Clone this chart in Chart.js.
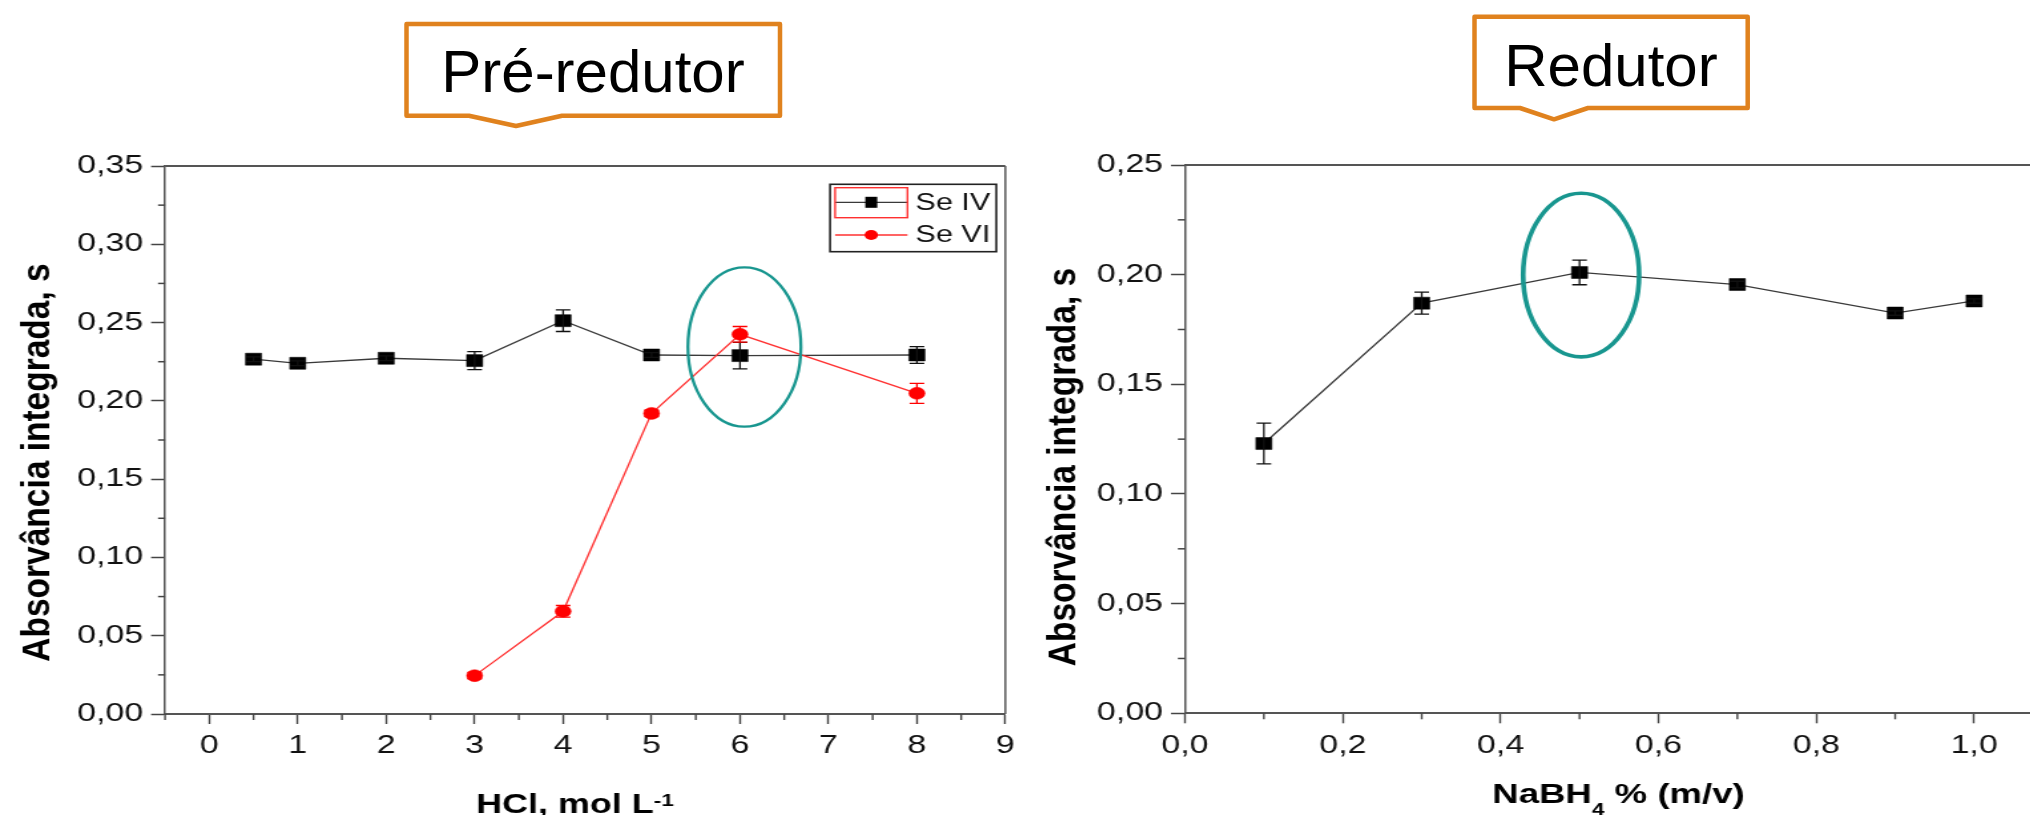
<!DOCTYPE html>
<html lang="pt">
<head>
<meta charset="utf-8">
<title>Pré-redutor / Redutor</title>
<script src="https://cdn.jsdelivr.net/npm/chart.js@4.4.1/dist/chart.umd.min.js"></script>
<style>
  html, body { margin: 0; padding: 0; width: 2030px; height: 815px; overflow: hidden; background: #fff; }
  .panel { position: absolute; top: 0; height: 815px; transform-origin: 0 0; }
  .panel canvas { display: block; }
  #callouts { position: absolute; left: 0; top: 0; pointer-events: none; }
</style>
</head>
<body>
<div class="panel" id="panelHcl"><canvas id="hcl"></canvas></div>
<div class="panel" id="panelNabh4"><canvas id="nabh4"></canvas></div>

<svg id="callouts" width="2030" height="815" viewBox="0 0 2030 815">
  <path d="M406.5 24H780V115.7H562L516 126L469 115.7H406.5Z" fill="#fff" stroke="#E0821E" stroke-width="4.5" stroke-linejoin="round"/>
  <text x="593" y="92" text-anchor="middle" font-family="'Liberation Sans', Arial, sans-serif" font-size="60" fill="#000">Pré-redutor</text>
  <path d="M1474.5 16.7H1747.7V108H1588L1554 119.3L1520 108H1474.5Z" fill="#fff" stroke="#E0821E" stroke-width="4.5" stroke-linejoin="round"/>
  <text x="1611" y="86" text-anchor="middle" font-family="'Liberation Sans', Arial, sans-serif" font-size="60" fill="#000">Redutor</text>
</svg>

<script>
// the original figure is stretched sideways, so both plots are drawn narrow and widened with css
const S = 1.33
const FONT = "'Liberation Sans', Arial, sans-serif"

// --- pre-reductor: HCl concentration ---
const hclSeIV = [0.5, 1, 2, 3, 4, 5, 6, 8]
const absSeIV = [0.2266, 0.2240, 0.2272, 0.2257, 0.2512, 0.2293, 0.2289, 0.2293]
const errSeIV = [0.0015, 0.0015, 0.0015, 0.0058, 0.0069, 0.0015, 0.0085, 0.0053]

const hclSeVI = [3, 4, 5, 6, 8]
const absSeVI = [0.0245, 0.0656, 0.1920, 0.2425, 0.2048]
const errSeVI = [0.002, 0.0037, 0.002, 0.005, 0.0064]

const hclTicks = [0, 1, 2, 3, 4, 5, 6, 7, 8, 9]
const hclMinor = [-0.5, 0.5, 1.5, 2.5, 3.5, 4.5, 5.5, 6.5, 7.5, 8.5]
const absTicksHcl = [0, 0.05, 0.10, 0.15, 0.20, 0.25, 0.30, 0.35]
const absMinorHcl = [0.025, 0.075, 0.125, 0.175, 0.225, 0.275, 0.325]

// --- reductor: NaBH4 concentration ---
const nabh4 = [0.1, 0.3, 0.5, 0.7, 0.9, 1.0]
const absNabh4 = [0.123, 0.187, 0.201, 0.1955, 0.1825, 0.188]
const errNabh4 = [0.0093, 0.005, 0.0056, 0.0015, 0.001, 0.001]

const nabh4Ticks = [0, 0.2, 0.4, 0.6, 0.8, 1.0]
const nabh4Minor = [0.1, 0.3, 0.5, 0.7, 0.9, 1.1]
const absTicksNabh4 = [0, 0.05, 0.10, 0.15, 0.20, 0.25]
const absMinorNabh4 = [0.025, 0.075, 0.125, 0.175, 0.225]

const yTitleText = 'Absorvância integrada, s'

Chart.defaults.font.family = FONT
Chart.defaults.color = '#111'

const fmt = (v, d) => v.toFixed(d).replace('.', ',')
const points = (xs, ys) => xs.map((x, i) => ({x: x, y: ys[i]}))

// extra drawing for each canvas (frame, error bars, minor ticks, titles, legend, ellipse)
const decorConf = {
    hcl: {
        minorX: hclMinor,
        minorY: absMinorHcl,
        yTitle: {dx: -95.4, y: 462.5},
        xTitle: {dx: -7.6, y: 812.5, parts: [
            {t: 'HCl, mol L', size: 27, shift: 0},
            {t: '-1', size: 17, shift: -7}
        ]},
        ellipse: {x: 6.05, y: 0.2344, rx: 0.639, ry: 0.0509, w: 2.3},
        legend: {right: 6.8, top: 18.3, w: 125, h: 67.4, rows: [18, 50.7]}
    },
    nabh4: {
        minorX: nabh4Minor,
        minorY: absMinorNabh4,
        yTitle: {dx: -90.3, y: 467},
        xTitle: {dx: -0.4, y: 803, parts: [
            {t: 'NaBH', size: 27.5, shift: 0},
            {t: '4', size: 17, shift: 12},
            {t: ' % (m/v)', size: 27.5, shift: 0}
        ]},
        ellipse: {x: 0.502, y: 0.1998, rx: 0.0735, ry: 0.0373, w: 3.6}
    }
}

const decor = {
    id: 'decor',
    beforeDatasetsDraw(chart) {
        const {ctx, chartArea: a} = chart
        ctx.save()
        ctx.strokeStyle = '#555'
        ctx.lineWidth = 2
        ctx.beginPath()
        ctx.moveTo(a.left, a.top)
        ctx.lineTo(a.right, a.top)
        ctx.stroke()
        ctx.lineWidth = 1.5
        ctx.beginPath()
        ctx.moveTo(a.right, a.top)
        ctx.lineTo(a.right, a.bottom)
        ctx.stroke()
        ctx.restore()
    },
    afterDatasetDraw(chart, args) {
        const ds = chart.data.datasets[args.index]
        if (!ds.errors) return
        const {ctx} = chart
        const xs = chart.scales.x, ys = chart.scales.y
        ctx.save()
        ctx.strokeStyle = ds.errorColor
        ctx.lineWidth = 1.3
        ds.data.forEach((p, i) => {
            const px = xs.getPixelForValue(p.x)
            const top = ys.getPixelForValue(p.y + ds.errors[i])
            const bot = ys.getPixelForValue(p.y - ds.errors[i])
            ctx.beginPath()
            ctx.moveTo(px, top); ctx.lineTo(px, bot)
            ctx.moveTo(px - 5.5, top); ctx.lineTo(px + 5.5, top)
            ctx.moveTo(px - 5.5, bot); ctx.lineTo(px + 5.5, bot)
            ctx.stroke()
        })
        ctx.restore()
    },
    afterDatasetsDraw(chart) {
        const c = decorConf[chart.canvas.id]
        const e = c.ellipse
        const {ctx} = chart
        const xs = chart.scales.x, ys = chart.scales.y
        const cx = xs.getPixelForValue(e.x), cy = ys.getPixelForValue(e.y)
        const rx = xs.getPixelForValue(e.x + e.rx) - cx
        const ry = cy - ys.getPixelForValue(e.y + e.ry)
        ctx.save()
        ctx.strokeStyle = '#18968f'
        ctx.lineWidth = e.w
        ctx.beginPath()
        ctx.ellipse(cx, cy, rx, ry, 0, 0, Math.PI * 2)
        ctx.stroke()
        ctx.restore()
    },
    afterDraw(chart) {
        const c = decorConf[chart.canvas.id]
        const {ctx, chartArea: a} = chart
        const xs = chart.scales.x, ys = chart.scales.y
        ctx.save()

        // minor ticks
        ctx.strokeStyle = '#444'
        ctx.lineWidth = 1.4
        c.minorX.forEach(v => {
            const p = xs.getPixelForValue(v)
            ctx.beginPath()
            ctx.moveTo(p, a.bottom)
            ctx.lineTo(p, a.bottom + 6)
            ctx.stroke()
        })
        ctx.lineWidth = 1.5
        c.minorY.forEach(v => {
            const p = ys.getPixelForValue(v)
            ctx.beginPath()
            ctx.moveTo(a.left - 5.3, p)
            ctx.lineTo(a.left, p)
            ctx.stroke()
        })

        // y title - the rotated glyphs are less widened than the rest in the original
        ctx.fillStyle = '#000'
        ctx.save()
        ctx.translate(a.left + c.yTitle.dx, c.yTitle.y)
        ctx.scale(0.872, 1)
        ctx.rotate(-Math.PI / 2)
        ctx.font = 'bold 33.5px ' + FONT
        ctx.textAlign = 'center'
        ctx.textBaseline = 'middle'
        ctx.fillText(yTitleText, 0, 0)
        ctx.restore()

        // x title with sub/superscript
        ctx.textAlign = 'left'
        ctx.textBaseline = 'alphabetic'
        const widths = c.xTitle.parts.map(p => {
            ctx.font = 'bold ' + p.size + 'px ' + FONT
            return ctx.measureText(p.t).width
        })
        let x = (a.left + a.right) / 2 + c.xTitle.dx - widths.reduce((s, w) => s + w, 0) / 2
        c.xTitle.parts.forEach((p, i) => {
            ctx.font = 'bold ' + p.size + 'px ' + FONT
            ctx.fillText(p.t, x, c.xTitle.y + p.shift)
            x += widths[i]
        })

        // legend (only on the HCl plot)
        if (c.legend) {
            const L = c.legend
            const bx = a.right - L.right - L.w, by = a.top + L.top
            ctx.strokeStyle = '#222'
            ctx.lineWidth = 1.6
            ctx.strokeRect(bx, by, L.w, L.h)
            chart.data.datasets.forEach((ds, i) => {
                const iy = by + L.rows[i]
                ctx.strokeStyle = ds.borderColor
                ctx.lineWidth = 1.3
                ctx.beginPath()
                ctx.moveTo(bx + 3.8, iy)
                ctx.lineTo(bx + 58.2, iy)
                ctx.stroke()
                ctx.fillStyle = ds.pointBackgroundColor
                if (ds.pointStyle === 'rect') {
                    ctx.fillRect(bx + 31 - 4.5, iy - 5.5, 9, 11)
                } else {
                    ctx.beginPath()
                    ctx.arc(bx + 31, iy, 5, 0, Math.PI * 2)
                    ctx.fill()
                }
                ctx.fillStyle = '#111'
                ctx.font = '23px ' + FONT
                ctx.textBaseline = 'middle'
                ctx.fillText(ds.label, bx + 64.2, iy + 1)
            })
            // selection frame around the first legend symbol
            ctx.strokeStyle = '#ff3030'
            ctx.lineWidth = 1.4
            ctx.strokeRect(bx + 3.8, by + 3.4, 54.4, 30)
        }
        ctx.restore()
    }
}

function makePanel(boxId, pageLeft, width) {
    const box = document.getElementById(boxId)
    box.style.left = pageLeft + 'px'
    box.style.width = width + 'px'
    box.style.transform = 'scaleX(' + S + ')'
    const cv = box.querySelector('canvas')
    cv.width = width
    cv.height = 815
    return cv
}

function axes(o) {
    return {
        x: {
            type: 'linear',
            min: o.xMin,
            max: o.xMax,
            afterBuildTicks: s => { s.ticks = o.xTicks.map(v => ({value: v})) },
            afterFit: s => { s.height = o.xHeight },
            grid: {drawOnChartArea: false, tickLength: 10, tickColor: '#444', tickWidth: 1.4},
            border: {color: '#555', width: 2},
            ticks: {
                autoSkip: false,
                maxRotation: 0,
                padding: 7,
                color: '#111',
                font: {size: 25.5},
                callback: v => fmt(v, o.xDec)
            }
        },
        y: {
            type: 'linear',
            min: 0,
            max: o.yMax,
            afterBuildTicks: s => { s.ticks = o.yTicks.map(v => ({value: v})) },
            afterFit: s => { s.width = o.yWidth },
            grid: {drawOnChartArea: false, tickLength: 10.5, tickColor: '#444', tickWidth: 1.5},
            border: {color: '#555', width: 1.5},
            ticks: {
                autoSkip: false,
                padding: 6,
                color: '#111',
                font: {size: 25.5},
                callback: v => fmt(v, 2)
            }
        }
    }
}

const chart_hcl = makePanel('panelHcl', 0, 770)
new Chart(chart_hcl, {
    type: 'line',
    data: {
        datasets: [{
            label: 'Se IV',
            data: points(hclSeIV, absSeIV),
            errors: errSeIV,
            errorColor: '#111',
            order: 1,
            borderColor: '#3a3a3a',
            borderWidth: 1.3,
            pointStyle: 'rect',
            pointRadius: 8.5,
            pointBackgroundColor: '#000',
            pointBorderColor: '#000',
            pointBorderWidth: 0.5,
            tension: 0
        }, {
            label: 'Se VI',
            data: points(hclSeVI, absSeVI),
            errors: errSeVI,
            errorColor: '#ff0000',
            order: 0,
            borderColor: '#ff3030',
            borderWidth: 1.3,
            pointStyle: 'circle',
            pointRadius: 6,
            pointBackgroundColor: '#ff0000',
            pointBorderColor: '#ff0000',
            pointBorderWidth: 0.5,
            tension: 0
        }]
    },
    options: {
        responsive: false,
        animation: false,
        events: [],
        layout: {padding: {left: 0, top: 166, right: 8.3, bottom: 0}},
        plugins: {legend: {display: false}, tooltip: {enabled: false}},
        scales: axes({xMin: -0.5, xMax: 9, xTicks: hclTicks, xDec: 0, xHeight: 101,
                      yMax: 0.35, yTicks: absTicksHcl, yWidth: 124.1})
    },
    plugins: [decor]
})

const chart_nabh4 = makePanel('panelNabh4', 1030, 780)
new Chart(chart_nabh4, {
    type: 'line',
    data: {
        datasets: [{
            label: 'NaBH4',
            data: points(nabh4, absNabh4),
            errors: errNabh4,
            errorColor: '#111',
            borderColor: '#3a3a3a',
            borderWidth: 1.3,
            pointStyle: 'rect',
            pointRadius: 8.5,
            pointBackgroundColor: '#000',
            pointBorderColor: '#000',
            pointBorderWidth: 0.5,
            tension: 0
        }]
    },
    options: {
        responsive: false,
        animation: false,
        events: [],
        layout: {padding: {left: 0, top: 165, right: 10.8, bottom: 0}},
        plugins: {legend: {display: false}, tooltip: {enabled: false}},
        scales: axes({xMin: 0, xMax: 1.1, xTicks: nabh4Ticks, xDec: 1, xHeight: 101.7,
                      yMax: 0.25, yTicks: absTicksNabh4, yWidth: 116.5})
    },
    plugins: [decor]
})
</script>
</body>
</html>
